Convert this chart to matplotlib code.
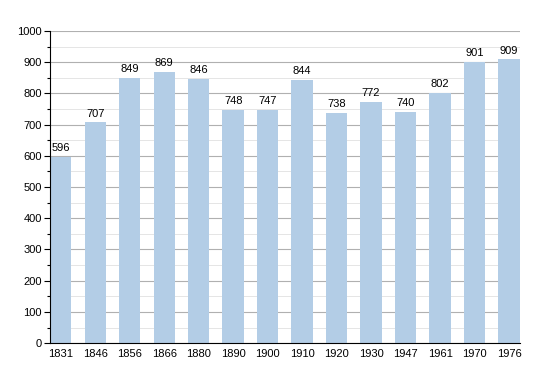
import matplotlib
matplotlib.use('Agg')
import matplotlib.pyplot as plt
import numpy as np
from matplotlib.ticker import MultipleLocator

plt.rcParams['font.family'] = ['Liberation Sans', 'DejaVu Sans']

years = ['1831', '1846', '1856', '1866', '1880', '1890', '1900',
         '1910', '1920', '1930', '1947', '1961', '1970', '1976']
population = [596, 707, 849, 869, 846, 748, 747,
              844, 738, 772, 740, 802, 901, 909]

bar_w = 0.62

fig = plt.figure(figsize=(5.5, 3.73), dpi=100)
ax = fig.add_axes([0.091, 0.080, 0.854, 0.837])

x = np.arange(len(years))
ax.bar(x, population, width=bar_w, color='#b3cde6', zorder=2)

for xi, v in zip(x, population):
    ax.text(xi, v + 12, str(v), ha='center', va='bottom', fontsize=8)

ax.set_xlim(-bar_w / 2, len(years) - 1 + bar_w / 2)
ax.set_ylim(0, 1000)
ax.set_xticks(x)
ax.set_xticklabels(years, fontsize=8)
ax.yaxis.set_major_locator(MultipleLocator(100))
ax.yaxis.set_minor_locator(MultipleLocator(50))
ax.tick_params(axis='y', labelsize=8, length=4, width=0.8, pad=2)
ax.tick_params(axis='y', which='minor', length=2, width=0.8)
ax.tick_params(axis='x', length=0, pad=4)

ax.grid(axis='y', which='major', color='#b0b0b0', linewidth=0.8, zorder=0)
ax.grid(axis='y', which='minor', color='#e0e0e0', linewidth=0.6, zorder=0)
ax.set_axisbelow(True)

for s in ['top', 'right']:
    ax.spines[s].set_visible(False)
ax.spines['left'].set_linewidth(0.8)
ax.spines['bottom'].set_linewidth(0.8)

fig.savefig('out.png', dpi=100)
